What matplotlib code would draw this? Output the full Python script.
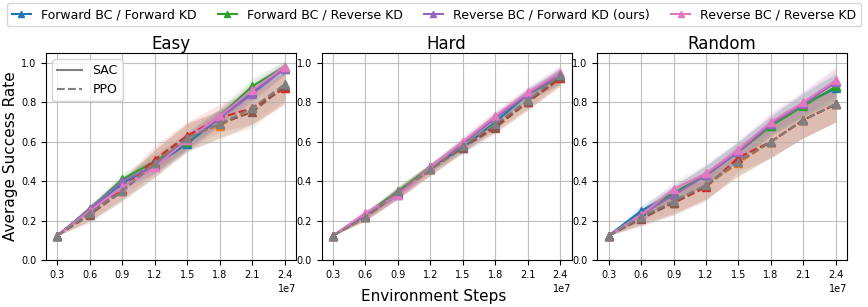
import numpy as np
import matplotlib

matplotlib.use("Agg")
import matplotlib.pyplot as plt
from matplotlib.lines import Line2D

steps = [3e6, 6e6, 9e6, 1.2e7, 1.5e7, 1.8e7, 2.1e7, 2.4e7]
tasks = ["Easy", "Hard", "Random"]
methods = [
    "Forward BC / Forward KD",
    "Forward BC / Reverse KD",
    "Reverse BC / Forward KD (ours)",
    "Reverse BC / Reverse KD",
]
sac_colors = ["tab:blue", "tab:green", "tab:purple", "tab:pink"]
ppo_colors = ["tab:orange", "tab:red", "tab:brown", "tab:gray"]

# mean success rate, one row per method
easy_sac = [
    [0.125, 0.26, 0.39, 0.48, 0.59, 0.72, 0.85, 0.97],
    [0.125, 0.26, 0.41, 0.50, 0.60, 0.73, 0.88, 0.98],
    [0.125, 0.26, 0.40, 0.48, 0.61, 0.72, 0.84, 0.97],
    [0.125, 0.25, 0.37, 0.47, 0.61, 0.73, 0.86, 0.98],
]
easy_ppo = [
    [0.125, 0.24, 0.36, 0.49, 0.63, 0.68, 0.77, 0.87],
    [0.125, 0.24, 0.36, 0.51, 0.63, 0.72, 0.77, 0.87],
    [0.125, 0.23, 0.35, 0.49, 0.62, 0.69, 0.75, 0.88],
    [0.125, 0.24, 0.35, 0.49, 0.62, 0.69, 0.77, 0.89],
]
hard_sac = [
    [0.125, 0.23, 0.34, 0.47, 0.57, 0.70, 0.84, 0.93],
    [0.125, 0.23, 0.35, 0.47, 0.59, 0.72, 0.84, 0.93],
    [0.125, 0.23, 0.33, 0.47, 0.59, 0.72, 0.84, 0.94],
    [0.125, 0.24, 0.33, 0.47, 0.60, 0.73, 0.85, 0.95],
]
hard_ppo = [
    [0.125, 0.22, 0.34, 0.46, 0.58, 0.68, 0.81, 0.92],
    [0.125, 0.22, 0.34, 0.46, 0.58, 0.68, 0.80, 0.92],
    [0.125, 0.22, 0.34, 0.46, 0.57, 0.67, 0.80, 0.93],
    [0.125, 0.22, 0.35, 0.46, 0.58, 0.69, 0.81, 0.94],
]
random_sac = [
    [0.125, 0.25, 0.34, 0.43, 0.55, 0.68, 0.79, 0.87],
    [0.125, 0.23, 0.34, 0.43, 0.55, 0.68, 0.78, 0.88],
    [0.125, 0.23, 0.33, 0.43, 0.55, 0.69, 0.79, 0.90],
    [0.125, 0.23, 0.36, 0.44, 0.56, 0.70, 0.80, 0.91],
]
random_ppo = [
    [0.125, 0.22, 0.30, 0.38, 0.49, 0.60, 0.71, 0.79],
    [0.125, 0.22, 0.29, 0.37, 0.52, 0.60, 0.71, 0.79],
    [0.125, 0.21, 0.29, 0.38, 0.50, 0.60, 0.71, 0.79],
    [0.125, 0.22, 0.30, 0.38, 0.50, 0.60, 0.71, 0.79],
]

# spread of the shaded band, shared by the methods of one algorithm
easy_sac_std = [0.0, 0.02, 0.03, 0.04, 0.04, 0.04, 0.04, 0.03]
easy_ppo_std = [0.0, 0.04, 0.05, 0.07, 0.07, 0.07, 0.08, 0.08]
hard_sac_std = [0.0, 0.02, 0.02, 0.02, 0.03, 0.03, 0.03, 0.04]
hard_ppo_std = [0.0, 0.02, 0.03, 0.03, 0.03, 0.03, 0.04, 0.04]
random_sac_std = [0.0, 0.03, 0.04, 0.05, 0.05, 0.05, 0.06, 0.07]
random_ppo_std = [0.0, 0.04, 0.06, 0.07, 0.07, 0.08, 0.09, 0.09]

results = {
    "Easy": (easy_sac, easy_ppo, easy_sac_std, easy_ppo_std),
    "Hard": (hard_sac, hard_ppo, hard_sac_std, hard_ppo_std),
    "Random": (random_sac, random_ppo, random_sac_std, random_ppo_std),
}


def draw_curve(ax, mean, std, color, linestyle):
    mean = np.asarray(mean)
    std = np.asarray(std)
    ax.fill_between(steps, mean - std, mean + std, color=color, alpha=0.12, lw=0)
    ax.plot(steps, mean, color=color, linestyle=linestyle, marker="^",
            markersize=6, linewidth=1.5)


fig, axes = plt.subplots(1, 3, figsize=(8.68, 3.07), dpi=100)
fig.subplots_adjust(left=0.053, right=0.976, bottom=0.152, top=0.828, wspace=0.103)

for ax, task in zip(axes, tasks):
    sac, ppo, sac_std, ppo_std = results[task]
    for i in range(len(methods)):
        draw_curve(ax, sac[i], sac_std, sac_colors[i], "-")
        draw_curve(ax, ppo[i], ppo_std, ppo_colors[i], "--")
    ax.set_title(task, fontsize=12, pad=3)
    ax.set_ylim(0, 1.05)
    ax.set_xticks(steps)
    ax.grid(True, alpha=0.8)
    ax.tick_params(labelsize=7)
    ax.xaxis.get_offset_text().set_fontsize(7)

axes[0].set_ylabel("Average Success Rate", fontsize=11, labelpad=2)
fig.supxlabel("Environment Steps", fontsize=11, y=0.01)

algo_handles = [
    Line2D([], [], color="gray", linestyle="-", linewidth=1.5),
    Line2D([], [], color="gray", linestyle="--", linewidth=1.5),
]
axes[0].legend(algo_handles, ["SAC", "PPO"], loc="upper left", fontsize=9)

method_handles = [
    Line2D([], [], color=c, marker="^", markersize=4, linewidth=1.5)
    for c in sac_colors
]
fig.legend(method_handles, methods, loc="lower left", ncol=4, mode="expand",
           bbox_to_anchor=(0.008, 0.915, 0.984, 0.08), fontsize=9,
           handlelength=1.5, borderaxespad=0)

fig.savefig("out.png", dpi=100)
